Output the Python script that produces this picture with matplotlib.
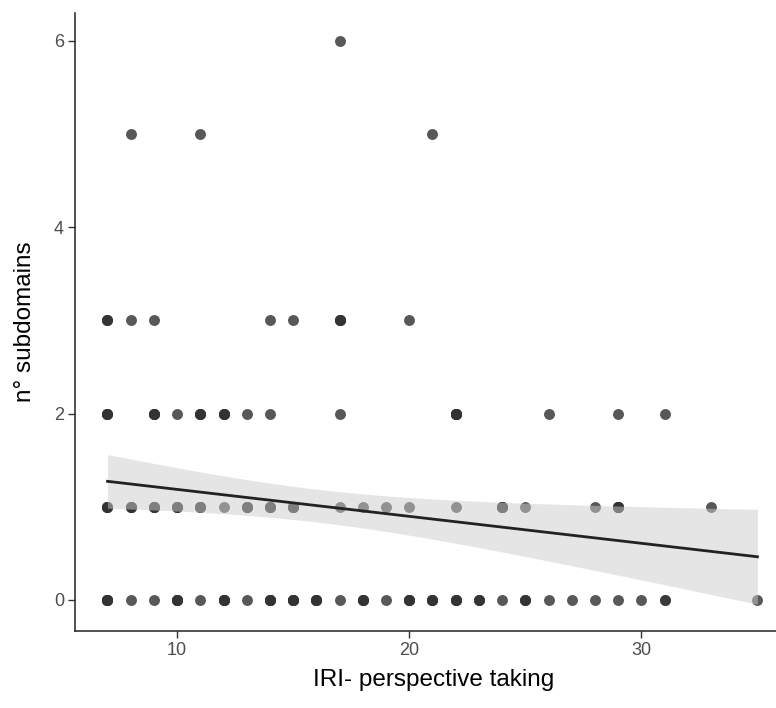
import numpy as np
import matplotlib
matplotlib.use("Agg")
import matplotlib.pyplot as plt

plt.rcParams['font.family'] = ['Liberation Sans', 'DejaVu Sans']

# IRI perspective taking score, n° subdomains, and how many subjects share that spot
x_vals = [7, 8, 9, 10, 11, 12, 13, 14, 15, 16, 17, 18, 19, 20, 21, 22, 23, 24, 25, 26, 27, 28, 29, 30, 31, 35,
          7, 8, 9, 10, 11, 12, 13, 14, 15, 17, 18, 19, 20, 22, 24, 25, 28, 29, 33,
          7, 9, 10, 11, 12, 13, 14, 17, 22, 26, 29, 31,
          7, 8, 9, 14, 15, 17, 20,
          8, 11, 21,
          17]
y_vals = [0] * 26 + [1] * 19 + [2] * 12 + [3] * 7 + [5] * 3 + [6]
counts = [6, 1, 1, 5, 1, 5, 1, 5, 5, 5, 1, 4, 1, 4, 4, 4, 3, 1, 3, 1, 1, 1, 1, 1, 2, 1,
          4, 4, 4, 4, 4, 1, 4, 4, 4, 1, 1, 1, 1, 1, 5, 1, 1, 5, 1,
          4, 4, 1, 4, 4, 1, 1, 1, 6, 1, 1, 1,
          3, 1, 1, 1, 1, 4, 1,
          1, 1, 1,
          1]

x = np.repeat(x_vals, counts).astype(float)
y = np.repeat(y_vals, counts).astype(float)

# linear fit with 95% confidence band
n = len(x)
slope, intercept = np.polyfit(x, y, 1)
resid = y - (intercept + slope * x)
s = np.sqrt(np.sum(resid ** 2) / (n - 2))
sxx = np.sum((x - x.mean()) ** 2)
xs = np.linspace(x.min(), x.max(), 200)
fit = intercept + slope * xs
se = s * np.sqrt(1 / n + (xs - x.mean()) ** 2 / sxx)
t_crit = 1.975
lower = fit - t_crit * se
upper = fit + t_crit * se

fig = plt.figure(figsize=(7.76, 7.08), dpi=100)
ax = fig.add_axes([75 / 776, 77 / 708, 701 / 776, 618 / 708])

ax.scatter(x, y, s=62, c='#333333', alpha=0.82, linewidths=0, zorder=2)
ax.fill_between(xs, lower, upper, color='#cccccc', alpha=0.5, linewidth=0, zorder=3)
ax.plot(xs, fit, color='#222222', lw=2.0, zorder=4)

ax.set_xlim(5.6, 35.8)
ax.set_ylim(-0.333, 6.30)
ax.set_xticks([10, 20, 30])
ax.set_yticks([0, 2, 4, 6])

for side in ['top', 'right']:
    ax.spines[side].set_visible(False)
for side in ['left', 'bottom']:
    ax.spines[side].set_linewidth(1.1)
    ax.spines[side].set_color('#222222')

ax.tick_params(direction='out', length=5, width=1.0, color='#333333',
               labelcolor='#4d4d4d', labelsize=13, pad=3)

ax.set_xlabel('IRI- perspective taking', fontsize=17.5)
ax.set_ylabel('n° subdomains', fontsize=17.5)
ax.xaxis.set_label_coords(0.511, -0.062)
ax.yaxis.set_label_coords(-0.056, 0.50)

fig.savefig('out.png', dpi=100)
